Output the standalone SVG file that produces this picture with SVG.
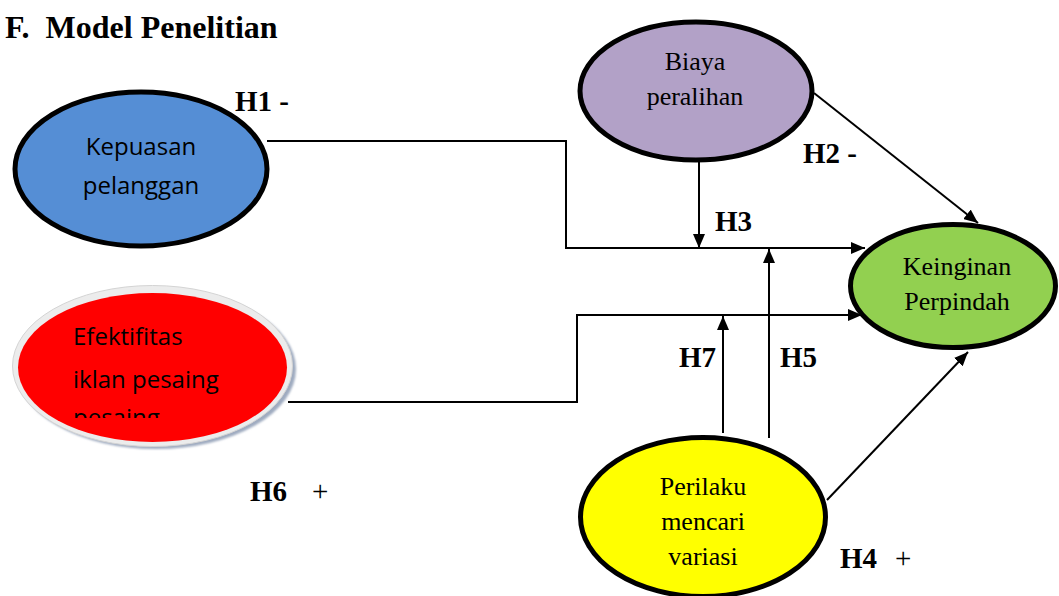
<svg xmlns="http://www.w3.org/2000/svg" width="1059" height="596" viewBox="0 0 1059 596">
<defs>
<style>
.title{font-family:"Liberation Serif",serif;font-weight:bold;font-size:32px;fill:#000}
.lbl{font-family:"Liberation Serif",serif;font-weight:bold;font-size:29px;fill:#000}
.sign{font-family:"Liberation Serif",serif;font-size:29px;fill:#000}
.serif{font-family:"Liberation Serif",serif;font-size:26px;fill:#000}
.sans{font-family:"Open Sans","Liberation Sans",sans-serif;font-size:24px;fill:#000}
.node{stroke:#000;stroke-width:5}
.conn{fill:none;stroke:#000;stroke-width:2}
</style>
<marker id="arr" viewBox="0 0 14 12" refX="14" refY="6" markerWidth="14" markerHeight="12" markerUnits="userSpaceOnUse" orient="auto">
<path d="M0,0 L14,6 L0,12 z" fill="#000"/>
</marker>
<clipPath id="redclip"><rect x="0" y="300" width="300" height="118"/></clipPath>
<filter id="blur" x="-10%" y="-10%" width="120%" height="120%"><feGaussianBlur stdDeviation="1.2"/></filter>
</defs>
<rect width="1059" height="596" fill="#fff"/>
<text class="title" x="5" y="38" xml:space="preserve">F.  Model Penelitian</text>

<g id="connectors">
<path class="conn" d="M267,141 H566 V248 H865" marker-end="url(#arr)"/>
<path class="conn" d="M699,142 V248" marker-end="url(#arr)"/>
<path class="conn" d="M814,93 L978,223" marker-end="url(#arr)"/>
<path class="conn" d="M769,438 V249" marker-end="url(#arr)"/>
<path class="conn" d="M723,433 V316" marker-end="url(#arr)"/>
<path class="conn" d="M288,402 H577 V315 H862" marker-end="url(#arr)"/>
<path class="conn" d="M827,500 L968,352" marker-end="url(#arr)"/>
</g>

<g id="kepuasan">
<ellipse class="node" cx="141" cy="169" rx="126" ry="77" fill="#558ED5"/>
<text class="sans" x="141" y="155" text-anchor="middle">Kepuasan</text>
<text class="sans" x="141" y="194" text-anchor="middle">pelanggan</text>
</g>

<g id="efektifitas">
<ellipse cx="156" cy="369" rx="140" ry="80" fill="#9FABC0" filter="url(#blur)"/>
<ellipse cx="152.5" cy="366" rx="140" ry="80.5" fill="#ECECEC" stroke="#D4D4D4" stroke-width="1"/>
<ellipse cx="152.5" cy="367.5" rx="134.5" ry="74.5" fill="#FF0000"/>
<text class="sans" x="73" y="345" font-size="25">Efektifitas</text>
<text class="sans" x="73" y="388" font-size="25">iklan pesaing</text>
<text class="sans" x="73" y="426" font-size="25" clip-path="url(#redclip)">pesaing</text>
</g>

<g id="biaya">
<ellipse class="node" cx="696" cy="91" rx="116" ry="69" fill="#B2A1C7"/>
<text class="serif" x="695" y="70" text-anchor="middle">Biaya</text>
<text class="serif" x="695" y="105" text-anchor="middle">peralihan</text>
</g>

<g id="keinginan">
<ellipse class="node" cx="953" cy="286" rx="102.5" ry="61.5" fill="#92D050"/>
<text class="serif" x="957" y="275" text-anchor="middle">Keinginan</text>
<text class="serif" x="957" y="310" text-anchor="middle">Perpindah</text>
</g>

<g id="perilaku">
<ellipse class="node" cx="703" cy="517" rx="122.5" ry="79.5" fill="#FFFF00"/>
<text class="serif" x="703" y="495" text-anchor="middle">Perilaku</text>
<text class="serif" x="703" y="530" text-anchor="middle">mencari</text>
<text class="serif" x="703" y="565" text-anchor="middle">variasi</text>
</g>

<g id="labels">
<text class="lbl" x="235" y="111">H1 -</text>
<text class="lbl" x="803" y="163">H2 -</text>
<text class="lbl" x="715" y="231">H3</text>
<text class="lbl" x="679" y="367">H7</text>
<text class="lbl" x="780" y="367">H5</text>
<text class="lbl" x="250" y="501">H6</text>
<text class="sign" x="312" y="501">+</text>
<text class="lbl" x="840" y="568">H4</text>
<text class="sign" x="895" y="568">+</text>
</g>
</svg>
